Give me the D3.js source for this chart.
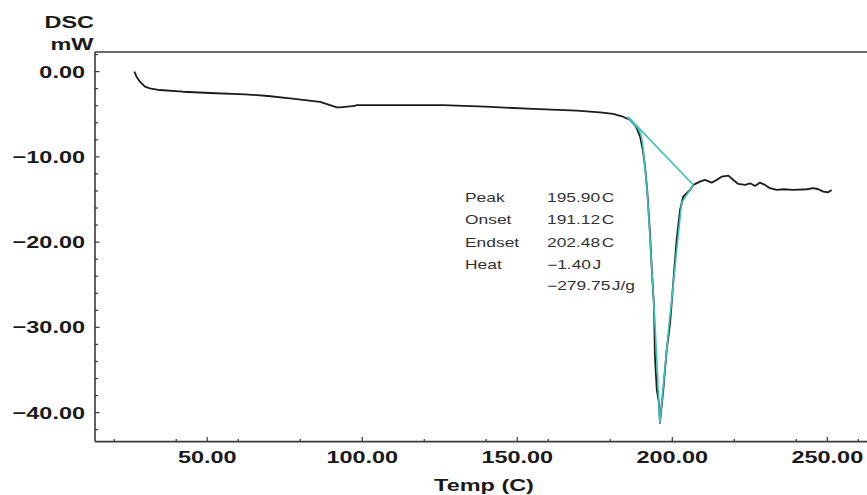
<!DOCTYPE html>
<html lang="en">
<head>
<meta charset="utf-8">
<style>
    body { margin: 0; background: #fff; }
    svg { display: block; }
    .tick-label { font-family: "Liberation Sans", Arial, sans-serif; font-weight: bold; font-size: 17px; fill: #1a1a1a; }
    .note { font-family: "Liberation Sans", Arial, sans-serif; font-size: 12px; fill: #333; }
</style>
</head>
<body>
<svg id="chart"></svg>

<script src="https://d3js.org/d3.v7.min.js"></script>
<script>
    // DSC trace (temp in C, heat flow in mW)
    const temps = [26.5, 27.2, 28.3, 29.9, 31.5, 34.7, 42.2, 50.9, 62.2, 69.6, 76.7, 86.4, 91.8, 92.8,
        97.6, 98.2, 126.0, 139.6, 155.1, 169.2, 176.7, 180.9, 184.1, 186.4, 188.3, 189.6, 190.5, 191.2,
        191.9, 192.8, 193.4, 194.1, 194.4, 195.0, 195.7, 196.0, 197.1, 198.2, 199.3, 200.3, 201.4, 202.5,
        203.5, 204.6, 205.7, 206.8, 208.9, 210.5, 212.7, 214.3, 215.9, 218.1, 219.7, 221.3, 223.5, 225.1,
        226.7, 228.3, 229.9, 231.5, 233.7, 235.8, 239.0, 243.4, 245.5, 247.1, 248.7, 250.3, 251.4];
    const dsc = [0.0, -0.60, -1.18, -1.77, -1.96, -2.16, -2.36, -2.51, -2.66, -2.86, -3.13, -3.56, -4.19, -4.19,
        -4.03, -3.92, -3.92, -4.11, -4.38, -4.58, -4.77, -4.97, -5.29, -5.67, -6.46, -7.63, -9.19, -11.15,
        -13.88, -18.92, -23.26, -27.56, -33.42, -37.33, -38.85, -41.2, -37.33, -32.64, -29.47, -24.78, -19.74, -16.23,
        -14.67, -14.27, -13.88, -13.29, -12.91, -12.71, -13.02, -12.71, -12.32, -12.20, -12.71, -13.18, -13.29, -13.10,
        -13.41, -13.02, -13.29, -13.68, -13.88, -13.80, -13.88, -13.80, -13.68, -13.80, -14.08, -14.15, -13.88];

    // integrated peak (cyan) and its baseline
    const peakTemps = [185.3, 188.5, 189.8, 190.4, 191.9, 194.4, 196.0, 199.0, 199.8, 201.2, 203.0, 205.7, 206.8];
    const peakDsc = [-5.29, -6.46, -7.23, -8.4, -13.88, -29.5, -41.2, -29.5, -26.8, -21.7, -15.4, -13.88, -13.29];
    const baseTemps = [186.0, 206.8];
    const baseDsc = [-5.4, -13.3];

    // ticks
    const xMajor = [50, 100, 150, 200, 250];
    const xMinor = [20, 40, 60, 80, 120, 140, 160, 180, 220, 240, 260];
    const yMajor = [0, -10, -20, -30, -40];
    const yMinor = [2, -2, -4, -6, -8, -12, -14, -16, -18, -22, -24, -26, -28, -32, -34, -36, -38, -42];

    const noteLabels = ["Peak", "Onset", "Endset", "Heat", ""];
    const noteValues = ["195.90\u200aC", "191.12\u200aC", "202.48\u200aC", "\u22121.40\u200aJ", "\u2212279.75\u200aJ/g"];

    var width = 867, height = 495;
    var plotLeft = 95, plotRight = 867, plotTop = 52, plotBottom = 441.6;
    var stretch = 1.38; // the picture's lettering is drawn wide

    var x = d3.scaleLinear().domain([13.8, 262.8]).range([plotLeft, plotRight]);
    var y = d3.scaleLinear().domain([2.3, -43.4]).range([plotTop, plotBottom]);

    var svg = d3.select("#chart").attr("width", width).attr("height", height);
    svg.append("rect").attr("width", width).attr("height", height).attr("fill", "#fff");

    // frame lines
    var frame = svg.append("g").attr("stroke", "#3a3a3a").attr("stroke-width", 1.6);
    frame.append("line").attr("x1", plotLeft).attr("x2", plotRight).attr("y1", plotTop).attr("y2", plotTop);
    frame.append("line").attr("x1", plotLeft).attr("x2", plotRight).attr("y1", plotBottom).attr("y2", plotBottom);
    frame.append("line").attr("x1", plotLeft).attr("x2", plotLeft).attr("y1", plotTop).attr("y2", plotBottom);

    // x ticks point up into the plot
    svg.append("g").selectAll("line").data(xMajor).enter().append("line")
        .attr("x1", d => x(d)).attr("x2", d => x(d)).attr("y1", plotBottom).attr("y2", plotBottom - 4.5)
        .attr("stroke", "#3a3a3a").attr("stroke-width", 1.2);
    svg.append("g").selectAll("line").data(xMinor).enter().append("line")
        .attr("x1", d => x(d)).attr("x2", d => x(d)).attr("y1", plotBottom).attr("y2", plotBottom - 2.5)
        .attr("stroke", "#3a3a3a").attr("stroke-width", 1.2);

    // y ticks point right
    svg.append("g").selectAll("line").data(yMajor).enter().append("line")
        .attr("x1", plotLeft).attr("x2", plotLeft + 4.5).attr("y1", d => y(d)).attr("y2", d => y(d))
        .attr("stroke", "#3a3a3a").attr("stroke-width", 1.2);
    svg.append("g").selectAll("line").data(yMinor).enter().append("line")
        .attr("x1", plotLeft).attr("x2", plotLeft + 3).attr("y1", d => y(d)).attr("y2", d => y(d))
        .attr("stroke", "#3a3a3a").attr("stroke-width", 1.2);

    function wideText(g, px, py, anchor, txt, cls, sx) {
        return g.append("text")
            .attr("class", cls)
            .attr("transform", "translate(" + px + "," + py + ") scale(" + (sx || stretch) + ",1)")
            .attr("text-anchor", anchor)
            .text(txt);
    }

    var labels = svg.append("g");
    yMajor.forEach(function (d) {
        wideText(labels, 85, y(d) + 5.9, "end", d3.format(".2f")(d).replace("-", "\u2212"), "tick-label");
    });
    xMajor.forEach(function (d) {
        wideText(labels, x(d), plotBottom + 21.7, "middle", d3.format(".2f")(d), "tick-label");
    });
    wideText(labels, 94, 28.3, "end", "DSC", "tick-label");
    wideText(labels, 93.5, 50, "end", "mW", "tick-label");
    wideText(labels, 484, 490.5, "middle", "Temp (C)", "tick-label");

    // curve
    var line = d3.line().x(d => x(d[0])).y(d => y(d[1]));
    svg.append("path")
        .datum(d3.zip(temps, dsc))
        .attr("d", line)
        .attr("fill", "none")
        .attr("stroke", "#1c1c1c")
        .attr("stroke-width", 1.8)
        .attr("stroke-linejoin", "round");

    svg.append("path")
        .datum(d3.zip(baseTemps, baseDsc))
        .attr("d", line)
        .attr("fill", "none")
        .attr("stroke", "#38c3bb")
        .attr("stroke-width", 1.6);

    svg.append("path")
        .datum(d3.zip(peakTemps, peakDsc))
        .attr("d", line)
        .attr("fill", "none")
        .attr("stroke", "#38c3bb")
        .attr("stroke-width", 1.6);

    // peak analysis notes
    var notes = svg.append("g");
    var rowY = [201.5, 224, 247, 269, 289.5];
    noteLabels.forEach(function (t, i) {
        if (t) wideText(notes, 465, rowY[i], "start", t, "note", 1.45);
    });
    noteValues.forEach(function (t, i) {
        wideText(notes, 547, rowY[i], "start", t, "note", 1.45);
    });
</script>
</body>
</html>
